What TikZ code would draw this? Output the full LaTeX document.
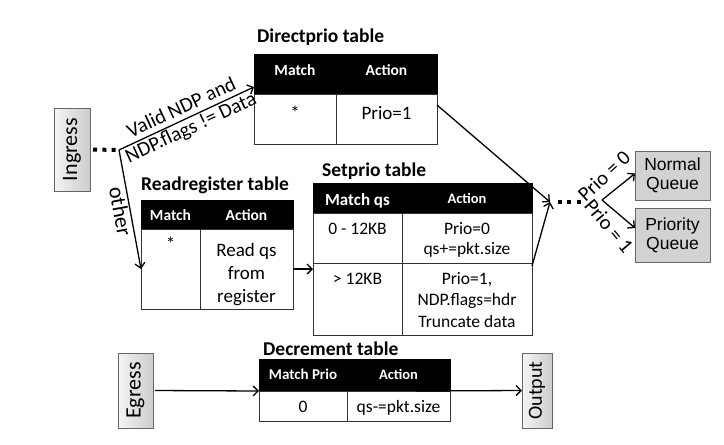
\documentclass[tikz,border=0pt]{standalone}
\usepackage{fontspec}
\setmainfont{Carlito}
\newfontfamily\arialf{Liberation Sans}
\usetikzlibrary{arrows.meta,calc}
\newcommand\fs[2]{\fontsize{#1}{#2}\selectfont}
% #1 style, #2 name, #3 x1, #4 y1, #5 x2, #6 y2, #7 text
\newcommand\tcell[7]{\node[#1, minimum width={#5-#3}, minimum height={#6-#4}] (#2) at ({(#3+#5)/2},{(#4+#6)/2}) {#7};}
\tikzset{
  hcell/.style={draw=black, fill=black, line width=1pt, inner sep=0pt, outer sep=0pt},
  bcell/.style={draw=black!80, fill=white, line width=1pt, inner sep=0pt, outer sep=0pt},
  ttl/.style={font=\bfseries\fs{19.5}{23}, anchor=base west, inner sep=0pt},
  htxt/.style={text=white, font=\bfseries\fs{15.5}{18}, anchor=base, inner sep=0pt},
  btxt/.style={font=\fs{19}{23}, anchor=base, inner sep=0pt, align=center},
  stxt/.style={font=\fs{17.5}{21}, anchor=base, inner sep=0pt, align=center},
  arr/.style={line width=1.3pt, -{Straight Barb[length=5pt,width=10pt]}},
  dots/.style={line width=4pt, dash pattern=on 4pt off 5.3pt},
  gbox/.style={draw=black!60, line width=1pt, left color=gray!8, right color=gray!40, inner sep=0pt, outer sep=0pt},
  qbox/.style={draw=black!60, line width=1pt, fill=gray!35, inner sep=0pt, outer sep=0pt, font=\arialf\fs{17.5}{19}, align=center},
  lbl/.style={font=\fs{20.5}{22}, inner sep=1pt},
}
\begin{document}
\begin{tikzpicture}[x=1pt,y=-1pt]
\fill[white] (0,0) rectangle (724,445);
\useasboundingbox (0,0) rectangle (724,445);

% ---------- Directprio table
\node[ttl] (dp-title) at (257,42.3) {Directprio table};
\tcell{hcell}{dp-hm}{254}{54}{336}{94}{}
\tcell{hcell}{dp-ha}{336}{54}{437}{94}{}
\tcell{bcell}{dp-m}{254}{94}{336}{144}{}
\tcell{bcell}{dp-a}{336}{94}{437}{144}{}
\node[htxt] (dp-hmt) at (295,75) {Match};
\node[htxt] (dp-hat) at (386.5,75) {Action};
\node[btxt] (dp-mt) at (295,119) {*};
\node[btxt] (dp-at) at (386.5,119) {Prio=1};

% ---------- Readregister table
\node[ttl] (rr-title) at (141,190) {Readregister table};
\tcell{hcell}{rr-hm}{141}{200}{200}{229}{}
\tcell{hcell}{rr-ha}{200}{200}{293}{229}{}
\tcell{bcell}{rr-m}{141}{229}{200}{309}{}
\tcell{bcell}{rr-a}{200}{229}{293}{309}{}
\node[htxt] (rr-hmt) at (170.5,220) {Match};
\node[htxt] (rr-hat) at (246.5,220) {Action};
\node[btxt] (rr-mt) at (170.5,250) {*};
% multi-line nodes: base = baseline of the last line
\node[btxt] (rr-at) at (246.5,302) {Read qs\\from\\register};

% ---------- Setprio table
\node[ttl] (sp-title) at (322,176) {Setprio table};
\tcell{hcell}{sp-hm}{313}{183}{402}{213}{}
\tcell{hcell}{sp-ha}{402}{183}{532}{213}{}
\tcell{bcell}{sp-m1}{313}{213}{402}{263}{}
\tcell{bcell}{sp-a1}{402}{213}{532}{263}{}
\tcell{bcell}{sp-m2}{313}{263}{402}{335}{}
\tcell{bcell}{sp-a2}{402}{263}{532}{335}{}
\node[htxt, font=\bfseries\fs{17}{20}] (sp-hmt) at (357.5,205) {Match qs};
\node[htxt, font=\bfseries\fs{14.5}{17}] (sp-hat) at (467,203.3) {Action};
\node[stxt] (sp-m1t) at (357.5,234) {0 - 12KB};
\node[stxt, font=\fs{17.5}{20}] (sp-a1t) at (467,254) {Prio=0\\qs+=pkt.size};
\node[stxt] (sp-m2t) at (357.5,284) {> 12KB};
\node[stxt, font=\fs{17.5}{21.5}] (sp-a2t) at (467,327) {Prio=1,\\NDP.flags=hdr\\Truncate data};

% ---------- Decrement table
\node[ttl] (dc-title) at (263,355) {Decrement table};
\tcell{hcell}{dc-hm}{259}{359}{347}{391}{}
\tcell{hcell}{dc-ha}{347}{359}{450}{391}{}
\tcell{bcell}{dc-m}{259}{391}{347}{421}{}
\tcell{bcell}{dc-a}{347}{391}{450}{421}{}
\node[htxt, font=\bfseries\fs{15}{18}] (dc-hmt) at (303,379.3) {Match Prio};
\node[htxt, font=\bfseries\fs{14.5}{17}] (dc-hat) at (398.5,379.3) {Action};
\node[stxt] (dc-mt) at (303,412) {0};
\node[stxt] (dc-at) at (398.5,412) {qs-=pkt.size};

% ---------- boxes
\tcell{gbox, label={[rotate=90, font=\fs{22}{26}, inner sep=0pt]center:Ingress}}{ingress}{54}{108}{90}{191}{}
\tcell{gbox, label={[rotate=90, font=\fs{22}{26}, inner sep=0pt]center:Egress}}{egress}{118}{353}{153}{428}{}
\tcell{gbox, label={[rotate=90, font=\fs{20}{24}, inner sep=0pt]center:Output}}{output}{522}{353}{552}{428}{}
\tcell{qbox}{normalq}{635}{151}{710}{200}{Normal\\Queue}
\tcell{qbox}{priorityq}{635}{208}{710}{262}{Priority\\Queue}

% ---------- connectors
\coordinate (split) at (119,150);
\draw[dots] ([xshift=3pt]ingress.east) -- ([xshift=-2pt]split);
\draw[arr] (split) -- ([yshift=7pt]dp-hm.south west)
  node[midway, sloped, lbl, align=center] (lbl-valid) {Valid NDP and\\NDP.flags != Data};
\draw[arr] (split) -- (rr-m.west)
  node[midway, sloped, below, lbl, font=\fs{22}{24}] (lbl-other) {other};
\draw[arr] (rr-a.east) -- (rr-a.east -| sp-m2.west);

\coordinate (merge) at (550,202);
\draw[arr] ([yshift=-11pt]dp-a.north east) -- (merge);
\draw[arr] ([yshift=-3pt]sp-a2.north east) -- (merge);
\draw[dots] ([xshift=8pt]merge) -- ([xshift=31pt]merge);
\coordinate (branch) at (602,200);
\draw[arr] (branch) -- ([yshift=2pt]normalq.west);
\draw[arr] (branch) -- ([yshift=7pt]priorityq.west);
\node[lbl, rotate=43] (lbl-p0) at (604,176) {Prio = 0};
\node[lbl, rotate=-50] (lbl-p1) at (609,226) {Prio = 1};

\draw[arr, shorten <=2pt] (egress.east) -- (dc-hm.south west);
\draw[arr] ([xshift=-34pt]dc-a.north east) -- (output.west);
\end{tikzpicture}
\end{document}
